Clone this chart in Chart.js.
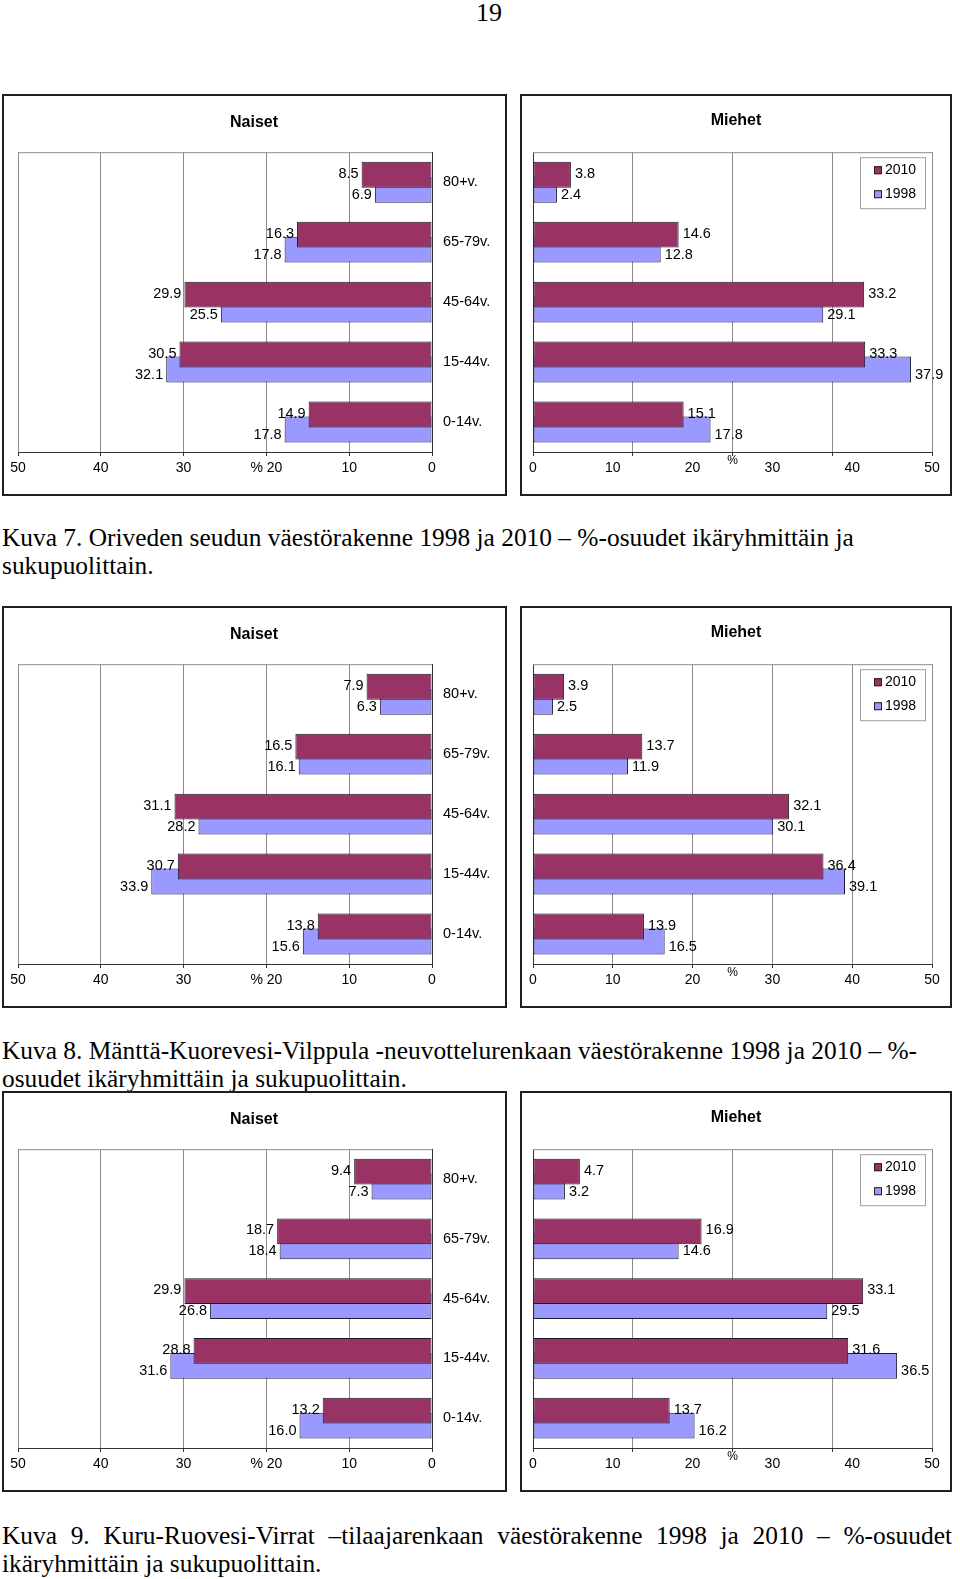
<!DOCTYPE html>
<html>
<head>
<meta charset="utf-8">
<script src="https://cdn.jsdelivr.net/npm/chart.js@4.4.1/dist/chart.umd.min.js"></script>
<style>
    body { margin: 0; background: #fff; width: 960px; height: 1579px; position: relative; overflow: hidden; font-family: "Liberation Serif", "Times New Roman", serif; }
    .pagenum { position: absolute; left: 0; width: 978px; top: -2px; line-height: 30px; text-align: center; font-size: 26px; }
    .box { position: absolute; border: 2px solid #1e1e1e; background: #fff; }
    .box canvas { display: block; }
    .cap { position: absolute; left: 2px; width: 950px; font-size: 25.4px; line-height: 28px; color: #000; }
    .cap.just { text-align: justify; }
</style>
</head>
<body>
<div class="pagenum">19</div>

<div class="box" style="left:2px;top:94px;width:501px;height:398px"><canvas id="k7n" width="501" height="398"></canvas></div>
<div class="box" style="left:520px;top:94px;width:428px;height:398px"><canvas id="k7m" width="428" height="398"></canvas></div>
<div class="cap" style="top:523px">Kuva 7. Oriveden seudun väestörakenne 1998 ja 2010 – %-osuudet ikäryhmittäin ja<br>sukupuolittain.</div>

<div class="box" style="left:2px;top:606px;width:501px;height:398px"><canvas id="k8n" width="501" height="398"></canvas></div>
<div class="box" style="left:520px;top:606px;width:428px;height:398px"><canvas id="k8m" width="428" height="398"></canvas></div>
<div class="cap" style="top:1036px">Kuva 8. Mänttä-Kuorevesi-Vilppula -neuvottelurenkaan väestörakenne 1998 ja 2010 – %-<br>osuudet ikäryhmittäin ja sukupuolittain.</div>

<div class="box" style="left:2px;top:1091px;width:501px;height:397px"><canvas id="k9n" width="501" height="397"></canvas></div>
<div class="box" style="left:520px;top:1091px;width:428px;height:397px"><canvas id="k9m" width="428" height="397"></canvas></div>
<div class="cap just" style="top:1521px">Kuva 9. Kuru-Ruovesi-Virrat –tilaajarenkaan väestörakenne 1998 ja 2010 – %-osuudet ikäryhmittäin ja sukupuolittain.</div>

<script>
// age groups, top to bottom as in the picture
const ageGroups = ['80+v.', '65-79v.', '45-64v.', '15-44v.', '0-14v.'];
const years = ['2010', '1998'];

// Kuva 7 - Oriveden seutu
const k7Naiset2010 = [8.5, 16.3, 29.9, 30.5, 14.9];
const k7Naiset1998 = [6.9, 17.8, 25.5, 32.1, 17.8];
const k7Miehet2010 = [3.8, 14.6, 33.2, 33.3, 15.1];
const k7Miehet1998 = [2.4, 12.8, 29.1, 37.9, 17.8];

// Kuva 8 - Mänttä-Kuorevesi-Vilppula
const k8Naiset2010 = [7.9, 16.5, 31.1, 30.7, 13.8];
const k8Naiset1998 = [6.3, 16.1, 28.2, 33.9, 15.6];
const k8Miehet2010 = [3.9, 13.7, 32.1, 36.4, 13.9];
const k8Miehet1998 = [2.5, 11.9, 30.1, 39.1, 16.5];

// Kuva 9 - Kuru-Ruovesi-Virrat
const k9Naiset2010 = [9.4, 18.7, 29.9, 28.8, 13.2];
const k9Naiset1998 = [7.3, 18.4, 26.8, 31.6, 16.0];
const k9Miehet2010 = [4.7, 16.9, 33.1, 31.6, 13.7];
const k9Miehet1998 = [3.2, 14.6, 29.5, 36.5, 16.2];

// the printed axis labels always run 0..50, the bars of some male panels use 0..40
const labelMax = 50;
const tickStep = 10;

const color2010 = '#993366';
const color1998 = '#9999ff';
const gridGray = '#8c8c8c';
const axisDark = '#333333';

Chart.defaults.font.family = '"Liberation Sans", Arial, sans-serif';
Chart.defaults.color = '#000';

// gray line along the top of the plot area
const topFrame = {
    id: 'topFrame',
    beforeDatasetsDraw(chart) {
        const { ctx, chartArea } = chart;
        ctx.save();
        ctx.strokeStyle = gridGray;
        ctx.lineWidth = 1;
        ctx.beginPath();
        ctx.moveTo(chartArea.left, chartArea.top + 0.5);
        ctx.lineTo(chartArea.right, chartArea.top + 0.5);
        ctx.stroke();
        ctx.restore();
    }
};

// numbers next to the bar ends
const valueLabels = {
    id: 'valueLabels',
    afterDatasetsDraw(chart, args, opts) {
        const ctx = chart.ctx;
        ctx.save();
        ctx.font = '14.5px "Liberation Sans", Arial, sans-serif';
        ctx.fillStyle = '#000';
        ctx.textBaseline = 'middle';
        chart.data.datasets.forEach((ds, di) => {
            chart.getDatasetMeta(di).data.forEach((bar, i) => {
                const txt = ds.data[i].toFixed(1);
                const y = bar.y + (di === 0 ? -1 : 5);
                if (opts.side === 'left') {
                    ctx.textAlign = 'right';
                    ctx.fillText(txt, bar.x - 3, y);
                } else {
                    ctx.textAlign = 'left';
                    ctx.fillText(txt, bar.x + 4, y);
                }
            });
        });
        ctx.restore();
    }
};

// legend box inside the plot area, top right
const insideLegend = {
    id: 'insideLegend',
    afterDatasetsDraw(chart) {
        const { ctx, chartArea } = chart;
        const w = 65, h = 51;
        const x = chartArea.right - 7 - w, y = chartArea.top + 5;
        ctx.save();
        ctx.fillStyle = '#fff';
        ctx.fillRect(x, y, w, h);
        ctx.strokeStyle = '#a0a0a0';
        ctx.lineWidth = 1;
        ctx.strokeRect(x + 0.5, y + 0.5, w, h);
        ctx.font = '14px "Liberation Sans", Arial, sans-serif';
        ctx.textBaseline = 'middle';
        ctx.textAlign = 'left';
        chart.data.datasets.forEach((ds, i) => {
            const cy = y + 13 + i * 24;
            ctx.fillStyle = ds.backgroundColor;
            ctx.fillRect(x + 14, cy - 4, 8, 8);
            ctx.strokeStyle = '#222';
            ctx.strokeRect(x + 14.5, cy - 3.5, 7, 7);
            ctx.fillStyle = '#000';
            ctx.fillText(ds.label, x + 25, cy);
        });
        ctx.restore();
    }
};

// the small "%" between 20 and 30 on the male axis
const percentMark = {
    id: 'percentMark',
    afterDraw(chart) {
        const scale = chart.scales.xl;
        const ctx = chart.ctx;
        ctx.save();
        ctx.font = '12px "Liberation Sans", Arial, sans-serif';
        ctx.fillStyle = '#000';
        ctx.textAlign = 'center';
        ctx.textBaseline = 'middle';
        ctx.fillText('%', scale.getPixelForValue(25), chart.chartArea.bottom + 9);
        ctx.restore();
    }
};

function makeDatasets(v2010, v1998) {
    const common = {
        borderColor: '#1a1a2a',
        borderWidth: 1,
        borderSkipped: false,
        categoryPercentage: 0.5,
        barPercentage: 1.73
    };
    return [
        Object.assign({ label: years[0], data: v2010, backgroundColor: color2010 }, common),
        Object.assign({ label: years[1], data: v1998, backgroundColor: color1998 }, common)
    ];
}

const gridColor = c => (c.tick && c.tick.value === 0) ? axisDark : gridGray;
const titleFont = { size: 16, weight: 'bold' };

function naisetChart(id, v2010, v1998) {
    new Chart(document.getElementById(id), {
        type: 'bar',
        data: { labels: ageGroups, datasets: makeDatasets(v2010, v1998) },
        options: {
            indexAxis: 'y',
            responsive: false,
            animation: false,
            layout: { padding: { left: 14, right: 15, top: 0, bottom: 0 } },
            plugins: {
                legend: { display: false },
                tooltip: { enabled: false },
                title: { display: true, text: 'Naiset', font: titleFont, color: '#000', padding: { top: 17, bottom: 20 } },
                valueLabels: { side: 'left' }
            },
            scales: {
                x: {
                    min: 0, max: labelMax, reverse: true,
                    ticks: { stepSize: tickStep, padding: 4, font: { size: 14 }, callback: v => v === 20 ? '% 20' : v },
                    grid: { color: gridColor, tickLength: 4, tickColor: axisDark },
                    border: { color: axisDark },
                    afterFit: s => { s.height = 42; }
                },
                y: {
                    position: 'right',
                    grid: { display: false, drawTicks: false },
                    border: { color: axisDark },
                    ticks: { padding: 11, font: { size: 14.5 } },
                    afterFit: s => { s.width = 58; }
                }
            }
        },
        plugins: [topFrame, valueLabels]
    });
}

function miehetChart(id, v2010, v1998, dataMax) {
    new Chart(document.getElementById(id), {
        type: 'bar',
        data: { labels: ageGroups, datasets: makeDatasets(v2010, v1998) },
        options: {
            indexAxis: 'y',
            responsive: false,
            animation: false,
            layout: { padding: 0 },
            plugins: {
                legend: { display: false },
                tooltip: { enabled: false },
                title: { display: true, text: 'Miehet', font: titleFont, color: '#000', padding: { top: 15, bottom: 22 } },
                valueLabels: { side: 'right' }
            },
            scales: {
                x: {
                    min: 0, max: dataMax, weight: 0,
                    ticks: { display: false, stepSize: tickStep },
                    grid: { color: gridColor, tickLength: 4, tickColor: axisDark },
                    border: { color: axisDark },
                    afterFit: s => { s.height = 4; }
                },
                xl: {
                    type: 'linear', axis: 'x', position: 'bottom', weight: 1,
                    min: 0, max: labelMax,
                    ticks: { stepSize: tickStep, padding: 4, font: { size: 14 } },
                    grid: { display: false, drawTicks: false },
                    border: { display: false },
                    afterFit: s => { s.height = 38; }
                },
                y: {
                    position: 'left',
                    grid: { display: false, drawTicks: false },
                    ticks: { display: false },
                    border: { color: axisDark },
                    afterFit: s => { s.width = 11; }
                },
                // empty right margin, keeps the title centred on the box
                yr: {
                    type: 'category', axis: 'y', position: 'right',
                    grid: { display: false, drawTicks: false },
                    ticks: { display: false },
                    border: { display: false },
                    afterFit: s => { s.width = 18; }
                }
            }
        },
        plugins: [topFrame, valueLabels, insideLegend, percentMark]
    });
}

naisetChart('k7n', k7Naiset2010, k7Naiset1998);
miehetChart('k7m', k7Miehet2010, k7Miehet1998, 40);
naisetChart('k8n', k8Naiset2010, k8Naiset1998);
miehetChart('k8m', k8Miehet2010, k8Miehet1998, 50);
naisetChart('k9n', k9Naiset2010, k9Naiset1998);
miehetChart('k9m', k9Miehet2010, k9Miehet1998, 40);
</script>
</body>
</html>
